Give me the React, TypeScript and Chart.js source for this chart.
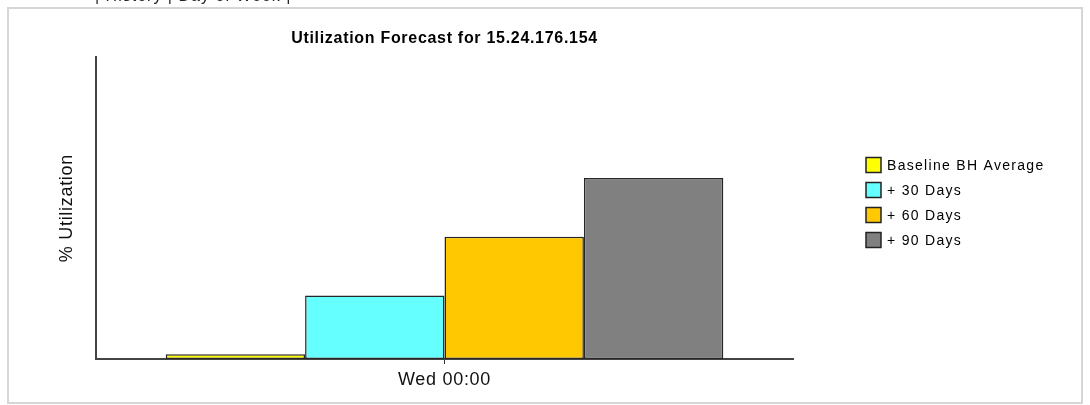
import React, { useEffect, useRef } from "react";
import { Chart, registerables } from "chart.js";

Chart.register(...registerables);

// Single time bucket with four forecast series
const categories = ["Wed 00:00"];
const seriesLabels = ["Baseline BH Average", "+ 30 Days", "+ 60 Days", "+ 90 Days"];
const baselineAvg = [0.16];
const plus30Days = [2.1];
const plus60Days = [4.05];
const plus90Days = [6.0];
const seriesColors = ["#FFFF00", "#66FFFF", "#FFC800", "#808080"];
const yRange = [0, 10];

const chartTitle = "Utilization Forecast for 15.24.176.154";
const yAxisTitle = "% Utilization";

// Spaced-out lettering used by all chart text
const spacingPlugin = {
  id: "letterSpacing",
  beforeUpdate(chart: any) {
    chart.ctx.letterSpacing = "0.7px";
  },
  beforeDraw(chart: any) {
    chart.ctx.letterSpacing = "0.7px";
  },
};

// Legend drawn as a fixed column to the right of the plot
const sideLegendPlugin = {
  id: "sideLegend",
  afterDraw(chart: any, _args: any, opts: any) {
    const ctx = chart.ctx;
    const x0 = chart.chartArea.right + opts.offsetX;
    ctx.save();
    ctx.letterSpacing = "1.3px";
    ctx.font = opts.font;
    ctx.textBaseline = "middle";
    ctx.textAlign = "left";
    chart.data.datasets.forEach((ds: any, i: number) => {
      const cy = opts.top + i * opts.rowGap;
      ctx.fillStyle = ds.backgroundColor;
      ctx.fillRect(x0, cy - opts.box / 2, opts.box, opts.box);
      ctx.strokeStyle = "#222";
      ctx.lineWidth = 1.5;
      ctx.strokeRect(x0, cy - opts.box / 2, opts.box, opts.box);
      ctx.fillStyle = "#000";
      ctx.fillText(ds.label, x0 + opts.box + 6, cy + 1);
    });
    ctx.restore();
  },
};

export default function App() {
  const canvasRef = useRef<HTMLCanvasElement>(null);

  useEffect(() => {
    const canvas = canvasRef.current;
    if (!canvas) return;
    const values = [baselineAvg, plus30Days, plus60Days, plus90Days];
    const chart = new Chart(canvas, {
      type: "bar",
      data: {
        labels: categories,
        datasets: values.map((v, i) => ({
          label: seriesLabels[i],
          data: v,
          backgroundColor: seriesColors[i],
          borderColor: "#262626",
          borderWidth: 1.5,
          borderSkipped: false,
          barPercentage: 1.0,
          categoryPercentage: 0.8,
        })),
      },
      options: {
        responsive: false,
        animation: false,
        devicePixelRatio: 1,
        layout: { padding: { left: 50, right: 297, top: 0, bottom: 0 } },
        plugins: {
          legend: { display: false },
          tooltip: { enabled: false },
          title: {
            display: true,
            text: chartTitle,
            fullSize: false,
            color: "#000",
            font: { family: "'Liberation Sans', Arial, sans-serif", size: 16, weight: "bold" },
            padding: { top: 29, bottom: 9 },
          },
          sideLegend: {
            offsetX: 73,
            top: 165,
            rowGap: 25,
            box: 15,
            font: "14px 'Liberation Sans', Arial, sans-serif",
          },
        } as any,
        scales: {
          x: {
            grid: {
              display: true,
              offset: false,
              drawOnChartArea: false,
              drawTicks: true,
              tickLength: 5,
              color: "#333",
            },
            border: { display: true, color: "#444", width: 2 },
            ticks: {
              color: "#111",
              padding: 5,
              font: { family: "'Liberation Sans', Arial, sans-serif", size: 18 },
            },
            afterFit(scale: any) {
              scale.height = 46;
            },
          },
          y: {
            min: yRange[0],
            max: yRange[1],
            grid: { display: false },
            border: { display: true, color: "#444", width: 2 },
            ticks: { display: false },
            title: {
              display: true,
              text: yAxisTitle,
              color: "#111",
              padding: { top: 6, bottom: 0 },
              font: { family: "'Liberation Sans', Arial, sans-serif", size: 18 },
            },
            afterFit(scale: any) {
              scale.width = 46;
            },
          },
        },
      },
      plugins: [spacingPlugin, sideLegendPlugin],
    });
    return () => chart.destroy();
  }, []);

  return (
    <div
      style={{
        position: "fixed",
        left: 0,
        top: 0,
        width: 1090,
        height: 405,
        background: "#fff",
        overflow: "hidden",
      }}
    >
      <div
        style={{
          position: "absolute",
          left: 95,
          top: -12,
          font: "16px 'Liberation Sans', Arial, sans-serif",
          lineHeight: "16px",
          letterSpacing: "1px",
          color: "#222",
          whiteSpace: "pre",
          opacity: 0.99,
          willChange: "transform",
        }}
      >
        | History | Day of Week |
      </div>
      <div
        style={{
          position: "absolute",
          left: 7,
          top: 7,
          width: 1076,
          height: 397,
          boxSizing: "border-box",
          border: "2px solid #d6d6d6",
        }}
      />
      <canvas
        ref={canvasRef}
        width={1090}
        height={405}
        style={{ position: "absolute", left: 0, top: 0, width: 1090, height: 405 }}
      />
    </div>
  );
}
